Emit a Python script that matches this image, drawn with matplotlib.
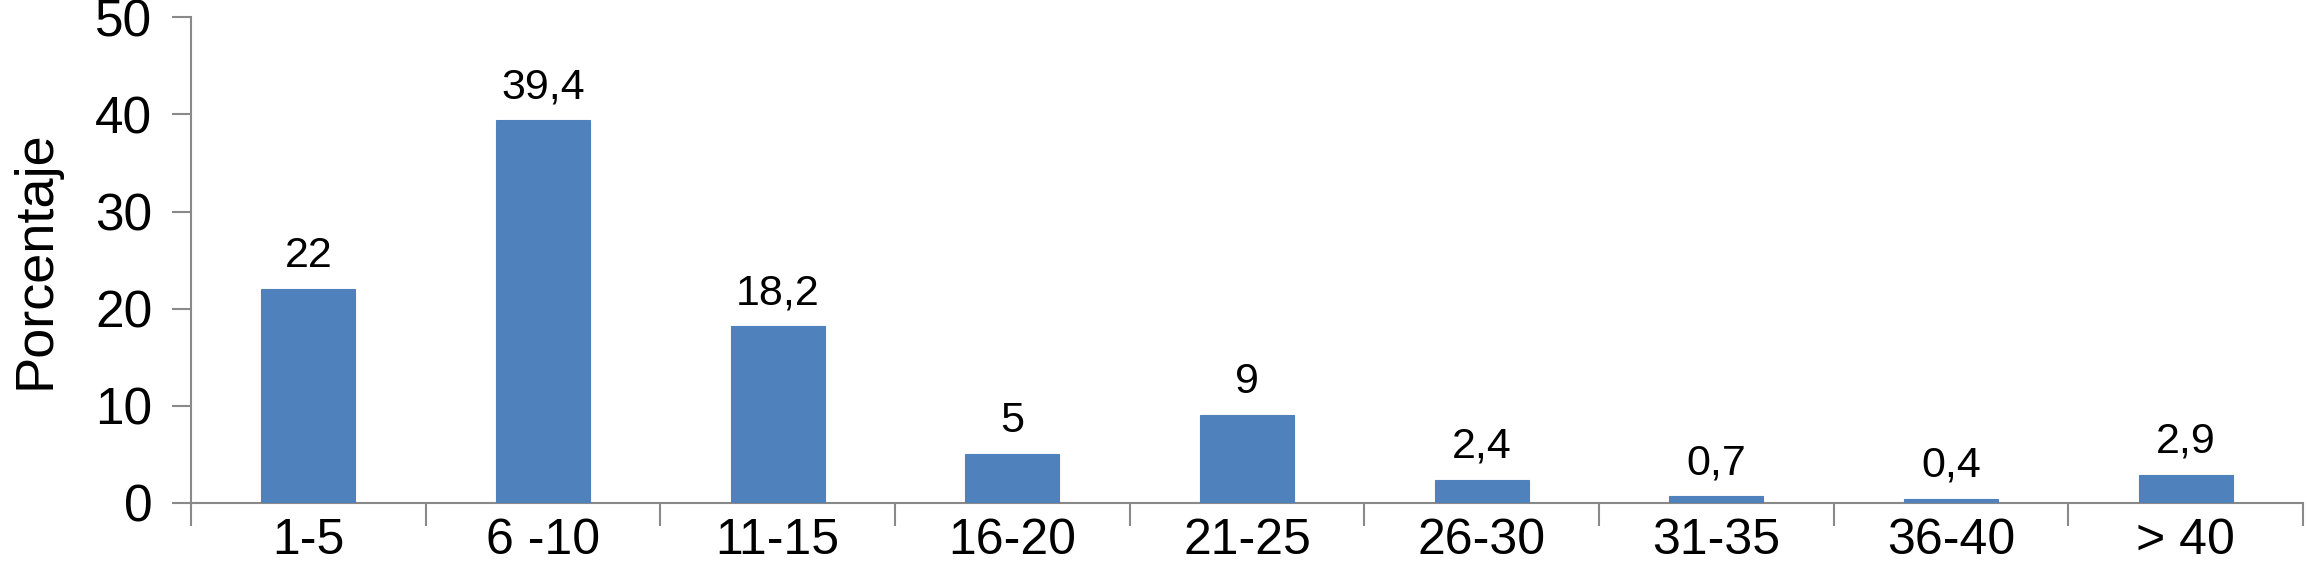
import matplotlib

matplotlib.use("Agg")
import matplotlib.pyplot as plt
import numpy as np

# ---------------------------------------------------------------- data
categories = ["1-5", "6 -10", "11-15", "16-20", "21-25", "26-30", "31-35", "36-40", "> 40"]
values = [22, 39.4, 18.2, 5, 9, 2.4, 0.7, 0.4, 2.9]
value_labels = ["22", "39,4", "18,2", "5", "9", "2,4", "0,7", "0,4", "2,9"]
yticks = [0, 10, 20, 30, 40, 50]

BAR = "#4f81bd"
AXIS = "#898989"

plt.rcParams["font.family"] = ["Liberation Sans", "DejaVu Sans"]

fig = plt.figure(figsize=(23.07, 5.80), dpi=100, facecolor="white")
ax = fig.add_axes([0.0828, 0.133, 0.9155, 0.837])

x = np.arange(len(categories)) + 0.5
ax.bar(x, values, width=0.4, color=BAR, edgecolor=BAR, linewidth=0.8, zorder=3)

for xi, v, lab in zip(x, values, value_labels):
    ax.text(xi, v + 3.4, lab, ha="center", va="center", fontsize=31, color="black")

ax.set_xlim(0, len(categories))
ax.set_ylim(0, 50)

ax.set_xticks(np.arange(len(categories) + 1))
ax.set_xticklabels([])
ax.set_xticks(x, minor=True)
ax.set_xticklabels(categories, minor=True, fontsize=36)
ax.tick_params(axis="x", which="major", direction="out", length=16.5, width=1.5, color=AXIS)
ax.tick_params(axis="x", which="minor", length=0, pad=11)

ax.set_yticks(yticks)
ax.set_yticklabels([str(t) for t in yticks], fontsize=37)
ax.tick_params(axis="y", direction="out", length=14, width=1.5, color=AXIS, pad=14)

ax.set_ylabel("Porcentaje", fontsize=39, labelpad=25)

for side in ("top", "right"):
    ax.spines[side].set_visible(False)
for side in ("left", "bottom"):
    ax.spines[side].set_color(AXIS)
    ax.spines[side].set_linewidth(1.5)

fig.savefig("out.png", dpi=100, facecolor="white")
